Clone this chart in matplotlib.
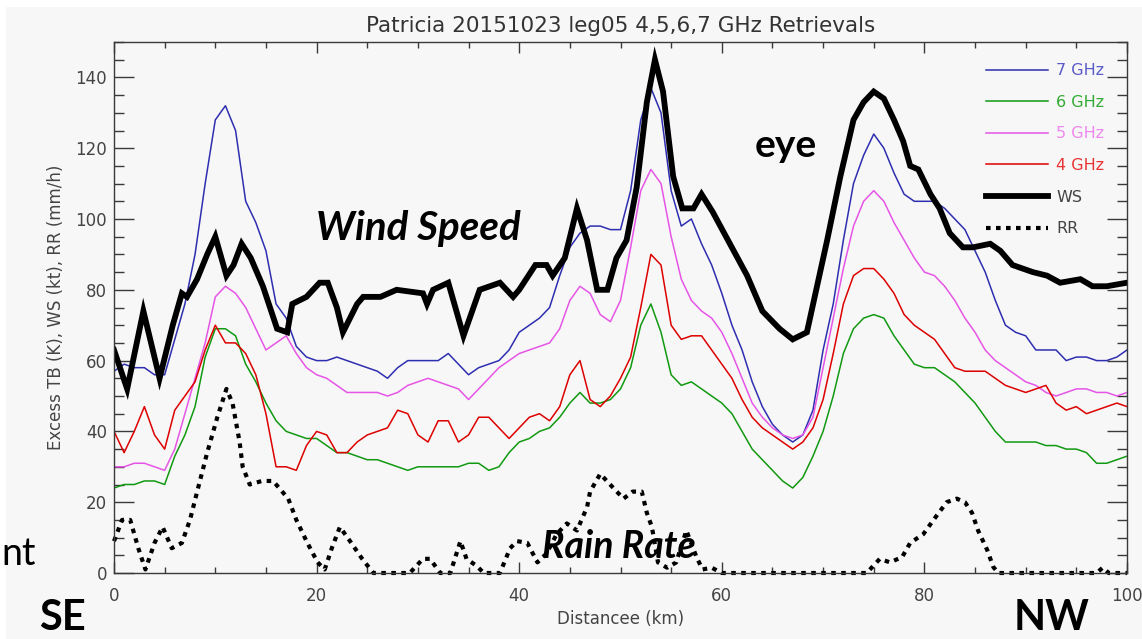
import matplotlib
matplotlib.use("Agg")
import matplotlib.pyplot as plt
from matplotlib.patches import Rectangle
from matplotlib.ticker import MultipleLocator
import numpy as np

# distance grid for the radiometer channels (km)
dist_km = np.arange(0, 101)

ghz7 = [57, 59, 58, 58, 56, 56, 66, 76, 90, 110,
        128, 132, 125, 105, 99, 91, 76, 72, 64, 61,
        60, 60, 61, 60, 59, 58, 57, 55, 58, 60,
        60, 60, 60, 62, 59, 56, 58, 59, 60, 63,
        68, 70, 72, 75, 84, 92, 96, 98, 98, 97,
        97, 108, 128, 137, 130, 108, 98, 100, 93, 87,
        79, 70, 63, 54, 47, 42, 39, 37, 39, 46,
        63, 76, 94, 110, 118, 124, 120, 113, 107, 105,
        105, 105, 103, 100, 97, 91, 85, 77, 70, 68,
        67, 63, 63, 63, 60, 61, 61, 60, 60, 61,
        63]

ghz6 = [24, 25, 25, 26, 26, 25, 33, 39, 47, 61,
        69, 69, 67, 59, 54, 48, 43, 40, 39, 38,
        38, 36, 34, 34, 33, 32, 32, 31, 30, 29,
        30, 30, 30, 30, 30, 31, 31, 29, 30, 34,
        37, 38, 40, 41, 44, 48, 51, 48, 48, 49,
        52, 58, 70, 76, 68, 56, 53, 54, 52, 50,
        48, 45, 40, 35, 32, 29, 26, 24, 27, 33,
        40, 50, 62, 69, 72, 73, 72, 67, 63, 59,
        58, 58, 56, 54, 51, 48, 44, 40, 37, 37,
        37, 37, 36, 36, 35, 35, 34, 31, 31, 32,
        33]

ghz5 = [30, 30, 31, 31, 30, 29, 35, 45, 55, 65,
        78, 81, 79, 75, 69, 63, 65, 67, 62, 58,
        56, 55, 53, 51, 51, 51, 51, 50, 51, 53,
        54, 55, 54, 53, 52, 49, 52, 55, 58, 60,
        62, 63, 64, 65, 69, 77, 81, 79, 73, 71,
        77, 92, 108, 114, 110, 95, 83, 77, 74, 72,
        68, 62, 55, 48, 44, 41, 39, 38, 39, 44,
        58, 72, 86, 98, 105, 108, 105, 99, 94, 89,
        85, 84, 81, 77, 72, 68, 63, 60, 58, 56,
        54, 53, 51, 50, 51, 52, 52, 51, 51, 50,
        51]

ghz4 = [40, 34, 40, 47, 39, 35, 46, 50, 54, 63,
        70, 65, 65, 62, 56, 45, 30, 30, 29, 36,
        40, 39, 34, 34, 37, 39, 40, 41, 46, 45,
        39, 37, 43, 43, 37, 39, 44, 44, 41, 38,
        41, 44, 45, 43, 47, 56, 60, 49, 47, 50,
        55, 61, 75, 90, 87, 70, 66, 67, 67, 63,
        59, 55, 49, 44, 41, 39, 37, 35, 37, 41,
        49, 62, 76, 84, 86, 86, 83, 79, 73, 70,
        68, 66, 62, 58, 57, 57, 57, 55, 53, 52,
        51, 52, 53, 48, 46, 47, 45, 46, 47, 48,
        47]

# wind speed (kt)
ws_km = [0, 1.3, 2.9, 4.5, 5.8, 6.7, 7.2, 8.2, 9.2, 10,
         11.1, 11.8, 12.6, 13.5, 14.7, 15.4, 16.1, 17.1, 17.6, 19,
         20.3, 21.1, 22, 22.6, 24, 24.6, 26.3, 27.9, 30.5, 30.9,
         31.5, 33, 34.5, 36.1, 38.1, 39.4, 40, 41.6, 42.7, 43.3,
         44.5, 45.7, 46.7, 47.7, 48.7, 49.6, 50.6, 51.6, 52.6, 53.4,
         54.2, 55.2, 56.1, 57.2, 58, 59.1, 60.8, 62.5, 64, 65.7,
         67, 68.4, 70.4, 71.7, 73, 74, 75, 76, 77, 77.9,
         78.6, 79.4, 80.6, 81.5, 82.5, 83.8, 84.8, 86.5, 87.5, 88.7,
         90.7, 92.1, 93.4, 95.4, 96.6, 98, 100]
ws_kt = [63, 52, 74, 55, 70, 79, 78, 83, 90, 95,
         84, 87, 93, 89, 81, 75, 69, 68, 76, 78,
         82, 82, 75, 68, 76, 78, 78, 80, 79, 76,
         80, 82, 67, 80, 82, 78, 80, 87, 87, 84,
         89, 103, 94, 80, 80, 89, 94, 109, 133, 145,
         136, 112, 103, 103, 107, 102, 93, 84, 74, 69,
         66, 68, 94, 112, 128, 133, 136, 134, 128, 122,
         115, 114, 107, 103, 96, 92, 92, 93, 91, 87,
         85, 84, 82, 83, 81, 81, 82]

# rain rate (mm/h)
rr_km = [0, 0.8, 1.6, 2.4, 3.1, 4, 4.8, 5.7, 6.7, 7.5,
         8.3, 9.2, 10.2, 11.1, 11.7, 12.4, 12.7, 13.4, 14.6, 15.7,
         17.2, 18, 19, 20.1, 20.8, 21.5, 22.3, 23.3, 24.5, 25.6,
         29.2, 30.5, 31.2, 32.2, 33.2, 34.2, 34.8, 35.8, 36.5, 38.1,
         39.1, 39.8, 40.8, 41.8, 42.7, 43.7, 44.7, 45.7, 46.7, 47,
         48, 49.3, 50.3, 51.2, 52.1, 52.6, 53.1, 53.7, 54.6, 55.5,
         56.5, 57.5, 58.1, 59, 60, 74.3, 75.6, 76.6, 77.8, 78.6,
         79.9, 80.9, 82.2, 83.2, 84, 84.7, 85.3, 86.2, 86.8, 87.3,
         97, 97.6, 98.2, 100]
rr_mmh = [9, 15, 15, 7, 1, 8.5, 13, 7, 8.5, 15,
          24, 34, 44, 52, 48, 37, 30, 25, 26, 26,
          21, 15, 9, 3, 1, 7, 13, 9, 4, 0,
          0, 4, 4, 0, 0, 9, 4, 2, 0, 0,
          7, 9, 8.5, 3, 5.5, 11, 14, 12, 18.6, 23,
          28, 24, 21, 23, 23, 17, 13, 3, 1.5, 3,
          12, 4.5, 1, 1.5, 0, 0, 4, 3, 4.5, 8.5,
          11, 15, 20, 21, 20, 17, 12, 6.5, 1.7, 0,
          0, 1.5, 0, 0]

BG = "#f7f7f7"
INK = "#3a3a3a"

fig = plt.figure(figsize=(11.42, 6.39), dpi=100, facecolor="white")
# grey slide background, with thin white strip at top and left
fig.patches.append(Rectangle((6 / 1142, 0), 1, (639 - 7) / 639,
                             transform=fig.transFigure, facecolor=BG,
                             edgecolor="none", zorder=-10))

ax = fig.add_axes([114 / 1142, 66 / 639, 1013 / 1142, 531 / 639])
ax.set_facecolor(BG)

ax.plot(dist_km, ghz7, color="#2e2eb0", lw=1.1, label="7 GHz")
ax.plot(dist_km, ghz6, color="#119911", lw=1.1, label="6 GHz")
ax.plot(dist_km, ghz5, color="#e655e6", lw=1.1, label="5 GHz")
ax.plot(dist_km, ghz4, color="#dd0000", lw=1.1, label="4 GHz")
ax.plot(ws_km, ws_kt, color="black", lw=4.2, label="WS",
        solid_joinstyle="miter")
ax.plot(rr_km, rr_mmh, color="black", lw=3.0, linestyle=(0, (1.1, 1.3)),
        dash_capstyle="butt", label="RR", clip_on=False)

ax.set_xlim(0, 100)
ax.set_ylim(0, 150)
ax.xaxis.set_major_locator(MultipleLocator(20))
ax.xaxis.set_minor_locator(MultipleLocator(5))
ax.yaxis.set_major_locator(MultipleLocator(20))
ax.yaxis.set_minor_locator(MultipleLocator(5))
ax.set_yticks([0, 20, 40, 60, 80, 100, 120, 140])

ax.tick_params(axis="both", which="both", direction="in", colors=INK,
               labelcolor="#444444", labelsize=12, width=1.0,
               top=True, right=True)
ax.tick_params(axis="y", which="major", length=14.5, pad=5)
ax.tick_params(axis="y", which="minor", length=7.2)
ax.tick_params(axis="x", which="major", length=8, pad=10)
ax.tick_params(axis="x", which="minor", length=4.3)
for sp in ax.spines.values():
    sp.set_color(INK)
    sp.set_linewidth(1.0)

ax.set_title("Patricia 20151023 leg05 4,5,6,7 GHz Retrievals",
             fontsize=15.5, color="#333333", pad=7)
ax.set_xlabel("Distancee (km)", fontsize=12, color="#444444", labelpad=4)
ax.set_ylabel("Excess TB (K), WS (kt), RR (mm/h)", fontsize=12,
              color="#444444")
ax.yaxis.set_label_coords(-0.048, 0.5)

leg = ax.legend(loc="upper left", bbox_to_anchor=(0.861, 0.96),
                frameon=False, fontsize=11.5, handlelength=3.9,
                handletextpad=0.5, labelspacing=1.04, borderpad=0,
                borderaxespad=0)
text_colors = ["#5a5ac8", "#33aa33", "#ee88ee", "#e83333", "#444444", "#444444"]
for txt, c in zip(leg.get_texts(), text_colors):
    txt.set_color(c)

# slide annotations
ann = dict(family="Lato", color="black", fontweight="bold")
ax.text(19.9, 94, "Wind Speed", fontsize=29, style="italic",
        ha="left", va="baseline", **ann)
ax.text(63.2, 117.4, "eye", fontsize=28, ha="left", va="baseline", **ann)
ax.text(42.3, 4.2, "Rain Rate", fontsize=27, style="italic",
        ha="left", va="baseline", **ann)
fig.text(62 / 1142, 0.014, "SE", fontsize=30, ha="center", va="baseline", **ann)
fig.text(1052 / 1142, 0.014, "NW", fontsize=30, ha="center", va="baseline", **ann)
fig.text(1 / 1142, 0.116, "nt", fontsize=27, family="Lato", color="black",
         ha="left", va="baseline")

fig.savefig("out.png", dpi=100, facecolor=fig.get_facecolor())
